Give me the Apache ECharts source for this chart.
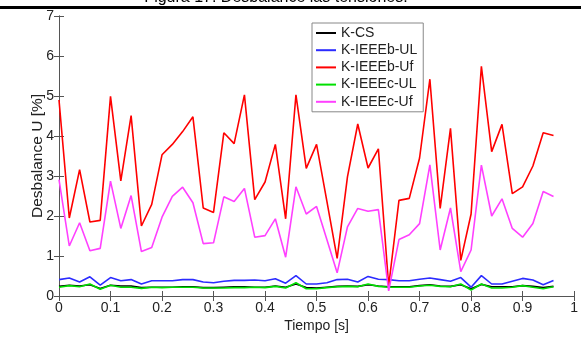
<!DOCTYPE html>
<html>
<head>
<meta charset="utf-8">
<script src="https://cdn.jsdelivr.net/npm/echarts@6/dist/echarts.min.js"></script>
<style>
html,body{margin:0;padding:0;background:#fff;}
#chart{width:581px;height:338px;}
</style>
</head>
<body>
<div id="chart"></div>
<script>
const times = [0,0.02,0.04,0.06,0.08,0.10,0.12,0.14,0.16,0.18,0.20,0.22,0.24,0.26,0.28,0.30,0.32,0.34,0.36,0.38,0.40,0.42,0.44,0.46,0.48,0.50,0.52,0.54,0.56,0.58,0.60,0.62,0.64,0.66,0.68,0.70,0.72,0.74,0.76,0.78,0.80,0.82,0.84,0.86,0.88,0.90,0.92,0.94,0.96];
const seriesNames = ["K-CS","K-IEEEb-UL","K-IEEEb-Uf","K-IEEEc-UL","K-IEEEc-Uf"];
const kCS = [0.24,0.27,0.25,0.28,0.19,0.27,0.25,0.25,0.21,0.22,0.22,0.22,0.23,0.23,0.21,0.21,0.22,0.23,0.23,0.22,0.22,0.25,0.22,0.30,0.21,0.20,0.22,0.24,0.25,0.24,0.28,0.25,0.23,0.23,0.23,0.26,0.28,0.25,0.24,0.28,0.18,0.29,0.23,0.23,0.23,0.26,0.24,0.21,0.24];
const kIEEEbUL = [0.41,0.45,0.35,0.48,0.27,0.46,0.38,0.41,0.30,0.38,0.38,0.38,0.41,0.41,0.35,0.33,0.37,0.39,0.39,0.40,0.38,0.43,0.32,0.51,0.30,0.30,0.33,0.41,0.42,0.35,0.49,0.42,0.41,0.38,0.38,0.42,0.45,0.41,0.37,0.46,0.22,0.51,0.30,0.30,0.37,0.44,0.40,0.28,0.39];
const kIEEEbUf = [4.90,1.95,3.16,1.85,1.89,4.99,2.88,4.51,1.75,2.29,3.53,3.79,4.11,4.48,2.20,2.09,4.08,3.81,5.03,2.41,2.85,3.79,1.93,5.03,3.19,3.79,2.37,0.94,2.98,4.30,3.20,3.68,0.25,2.39,2.44,3.45,5.42,2.19,4.19,0.89,2.05,5.74,3.61,4.29,2.56,2.73,3.25,4.08,4.01];
const kIEEEcUL = [0.22,0.26,0.23,0.30,0.17,0.27,0.22,0.22,0.19,0.22,0.21,0.22,0.22,0.22,0.20,0.20,0.20,0.21,0.21,0.22,0.21,0.24,0.20,0.33,0.18,0.18,0.21,0.23,0.24,0.23,0.30,0.24,0.22,0.22,0.22,0.25,0.27,0.24,0.23,0.30,0.15,0.30,0.20,0.20,0.22,0.26,0.22,0.18,0.23];
const kIEEEcUf = [2.91,1.25,1.83,1.13,1.19,2.87,1.69,2.51,1.11,1.21,1.97,2.49,2.72,2.33,1.31,1.33,2.48,2.36,2.69,1.47,1.51,1.93,0.97,2.73,2.05,2.24,1.41,0.58,1.73,2.19,2.12,2.16,0.13,1.41,1.53,1.81,3.28,1.15,2.20,0.61,1.15,3.27,2.00,2.43,1.69,1.47,1.81,2.61,2.49];
const xTicks = ["0","0.1","0.2","0.3","0.4","0.5","0.6","0.7","0.8","0.9","1"];
const yTicks = ["0","1","2","3","4","5","6","7"];
const titleText = "Figura 17: Desbalance las tensiones.";
const xName = "Tiempo [s]";
const yName = "Desbalance U [%]";

const allValues = [kCS, kIEEEbUL, kIEEEbUf, kIEEEcUL, kIEEEcUf];
const colors = ["#000000","#2b2bff","#ff0000","#00e000","#ff40ff"];

const chart = echarts.init(document.getElementById('chart'), null, {renderer:'canvas'});
const font = "Liberation Sans, Arial, sans-serif";
const axisColor = "#555";
const tickStyle = {show:true, inside:true, length:5, lineStyle:{color:axisColor, width:1}};

chart.setOption({
  animation:false,
  backgroundColor:'#fff',
  textStyle:{fontFamily:font},
  grid:{left:59, top:16, right:1, bottom:31, containLabel:false},
  legend:{
    orient:'vertical', left:312, top:23,
    padding:[2,6,2,4], itemGap:1.2,
    itemWidth:20, itemHeight:2, icon:'rect',
    backgroundColor:'#fff', borderColor:'#888', borderWidth:1,
    textStyle:{fontFamily:font, fontSize:14, color:'#222', lineHeight:16},
    data:seriesNames
  },
  xAxis:[{
    type:'value', min:0, max:1, interval:0.1, position:'bottom',
    axisLine:{show:true, lineStyle:{color:axisColor}},
    axisTick:tickStyle,
    splitLine:{show:false},
    axisLabel:{color:'#222', fontSize:14, fontFamily:font, margin:5,
      formatter:(v)=>xTicks[Math.round(v*10)]},
    name:xName, nameLocation:'middle', nameGap:23, nameMoveOverlap:false,
    nameTextStyle:{color:'#222', fontSize:14, fontFamily:font}
  },{
    type:'value', min:0, max:1, interval:0.1, position:'top',
    axisLine:{show:true, lineStyle:{color:axisColor}},
    axisTick:tickStyle, axisLabel:{show:false}, splitLine:{show:false}
  }],
  yAxis:[{
    type:'value', min:0, max:7, interval:1, position:'left',
    axisLine:{show:true, lineStyle:{color:axisColor}},
    axisTick:tickStyle,
    splitLine:{show:false},
    axisLabel:{color:'#222', fontSize:14, fontFamily:font, margin:5,
      formatter:(v)=>yTicks[Math.round(v)]},
    name:yName, nameLocation:'middle', nameGap:13, nameMoveOverlap:false,
    nameTextStyle:{color:'#222', fontSize:15.5, fontFamily:font}
  },{
    type:'value', min:0, max:7, interval:1, position:'right',
    axisLine:{show:true, lineStyle:{color:axisColor}},
    axisTick:tickStyle, axisLabel:{show:false}, splitLine:{show:false}
  }],
  graphic:[
    {type:'text', x:276, y:6, z:100, style:{text:titleText, fill:'#000', font:'16px '+font, textAlign:'center', textVerticalAlign:'bottom'}},
    {type:'rect', left:0, top:6, z:101, shape:{width:581, height:3}, style:{fill:'#000'}}
  ],
  series: seriesNames.map((n,i)=>({
    name:n, type:'line', symbol:'none', clip:true,
    xAxisIndex:0, yAxisIndex:0,
    lineStyle:{color:colors[i], width:1.6},
    itemStyle:{color:colors[i]},
    data: times.map((t,j)=>[t, allValues[i][j]])
  }))
});
</script>
</body>
</html>
